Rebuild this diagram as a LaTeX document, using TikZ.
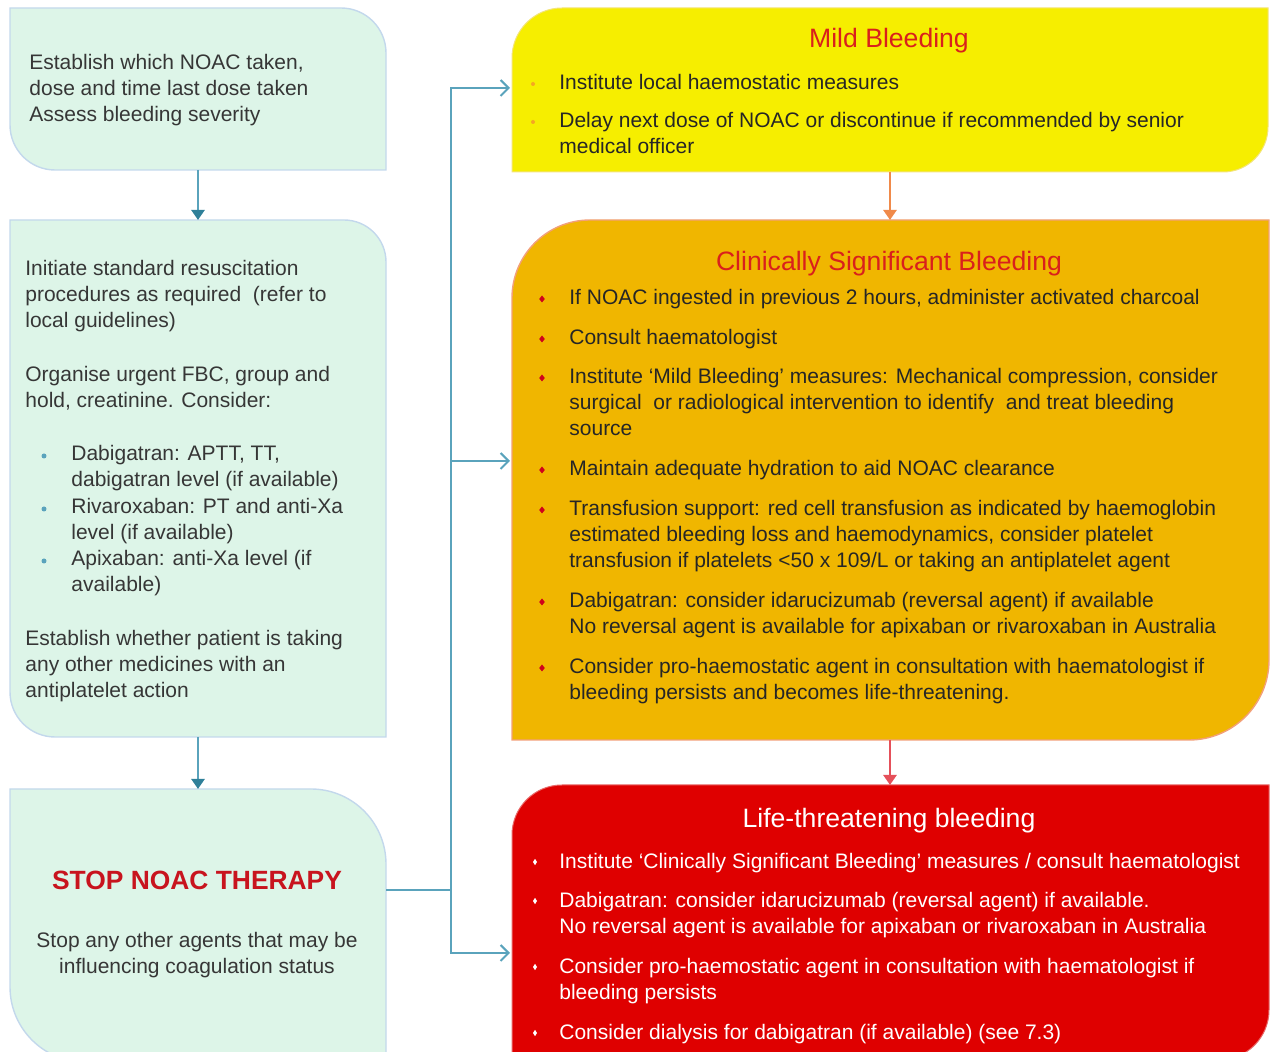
\documentclass[tikz,border=0pt]{standalone}
\usepackage{fontspec}
\setmainfont{Liberation Sans}
\usetikzlibrary{arrows.meta}
\definecolor{gfill}{HTML}{DDF5E8}
\definecolor{gline}{HTML}{C3D8EC}
\definecolor{yfill}{HTML}{F6EE00}
\definecolor{yline}{HTML}{F3E47A}
\definecolor{ofill}{HTML}{F0B600}
\definecolor{oline}{HTML}{F2A07A}
\definecolor{rfill}{HTML}{DF0000}
\definecolor{rline}{HTML}{E86A6A}
\definecolor{teal}{HTML}{5AA3BC}
\definecolor{tealdark}{HTML}{2F8099}
\definecolor{bodygray}{HTML}{363636}
\definecolor{bodydark}{HTML}{262626}
\definecolor{titlered}{HTML}{D9201C}
\definecolor{stopred}{HTML}{C8141E}
\definecolor{orarrow}{HTML}{F08A4A}
\definecolor{rdarrow}{HTML}{E5505A}
\definecolor{ydot}{HTML}{F5A623}
\definecolor{odiam}{HTML}{D0021B}
\newcommand\gshape[6]{% L T R B rTR rBL
  \filldraw[gbox] (#1,#2) -- ({#3-#5},#2) arc[start angle=90,end angle=0,radius=#5*0.5pt]
    -- (#3,#4) -- ({#1+#6},#4) arc[start angle=270,end angle=180,radius=#6*0.5pt] -- cycle;}
\newcommand\rshape[7]{% style L T R B rTL rBR
  \filldraw[#1] (#2,{#3+#6}) arc[start angle=180,end angle=90,radius=#6*0.5pt]
    -- (#4,#3) -- (#4,{#5-#7}) arc[start angle=0,end angle=-90,radius=#7*0.5pt] -- (#2,#5) -- cycle;}
\newcommand\boxnode[5]{% name L T R B
  \node[inner sep=0pt,outer sep=0pt,minimum width={(#4-#2)*0.5pt},minimum height={(#5-#3)*0.5pt}]
    (#1) at ({(#2+#4)/2},{(#3+#5)/2}) {};}
\newcommand\odiamond[2]{\fill[odiam] (#1,{#2-3.5}) -- ({#1+2.8},#2) -- (#1,{#2+3.5}) -- ({#1-2.8},#2) -- cycle;}
\newcommand\wbullet[2]{\fill[white] (#1,{#2-3.2}) -- ({#1+2},#2) -- (#1,{#2+3.2}) -- ({#1-2},#2) -- cycle;}
\tikzset{
  gbox/.style={fill=gfill,draw=gline,line width=0.7pt},
  ybox/.style={fill=yfill,draw=yline,line width=0.5pt},
  obox/.style={fill=ofill,draw=oline,line width=0.7pt},
  rbox/.style={fill=rfill,draw=rline,line width=0.5pt},
  body/.style={anchor=north west,inner sep=0pt,align=left,font=\fontsize{10.5}{13}\selectfont},
  gtext/.style={body,text=bodygray},
  dtext/.style={body,text=bodydark},
  wtext/.style={body,text=white},
  title/.style={inner sep=0pt,font=\fontsize{13.3}{16}\selectfont},
  vflow/.style={draw=teal,line width=1.4pt,-{Triangle[length=5pt,width=6.5pt,color=tealdark]}},
  stem/.style={draw=teal,line width=1pt},
  stemarrow/.style={stem,-{Straight Barb[length=4pt,width=8pt,line width=1pt]}},
}
\begin{document}
\begin{tikzpicture}[x=0.5pt,y=-0.5pt]
\useasboundingbox (0,0) rectangle (1271,1052);
\clip (0,0) rectangle (1271,1052);

% ---------- left column boxes ----------
\gshape{10}{8}{386}{170}{45}{45}
\boxnode{b1}{10}{8}{386}{170}
\gshape{10}{220}{386}{737}{42}{45}
\boxnode{b2}{10}{220}{386}{737}
\gshape{10}{789}{386}{1062}{75}{75}
\boxnode{b3}{10}{789}{386}{1062}

% ---------- right column boxes ----------
\rshape{ybox}{512}{8}{1268}{172}{50}{45}
\boxnode{yb}{512}{8}{1268}{172}
\rshape{obox}{512}{220}{1269}{740}{78}{80}
\boxnode{ob}{512}{220}{1268}{740}
\rshape{rbox}{512}{785}{1269}{1060}{50}{50}
\boxnode{rb}{512}{785}{1268}{1060}

% ---------- box 1 ----------
\node[gtext] (t1) at (29,51) {\strut Establish which NOAC taken,\\dose and time last dose taken\\Assess bleeding severity};

% ---------- box 2 ----------
\node[gtext] (t2a) at (25,257) {\strut Initiate standard resuscitation\\procedures as required\ \ (refer to\\local guidelines)};
\node[gtext] (t2b) at (25,363) {\strut Organise urgent FBC, group and\\hold, creatinine. Consider:};
\fill[teal] (44,456) circle[radius=2.5];
\node[gtext] (t2c) at (71,442) {\strut Dabigatran: APTT, TT,\\dabigatran level (if available)};
\fill[teal] (44,509) circle[radius=2.5];
\node[gtext] (t2d) at (71,495) {\strut Rivaroxaban: PT and anti-Xa\\level (if available)};
\fill[teal] (44,561) circle[radius=2.5];
\node[gtext] (t2e) at (71,547) {\strut Apixaban: anti-Xa level (if\\available)};
\node[gtext] (t2f) at (25,627) {\strut Establish whether patient is taking\\any other medicines with an\\antiplatelet action};

% ---------- box 3 ----------
\node[inner sep=0pt,text=stopred,font=\fontsize{13.2}{16}\selectfont\bfseries] (stop) at (197,880) {STOP NOAC THERAPY};
\node[body,anchor=north,align=center,text=bodygray] (t3) at (197,929) {\strut Stop any other agents that may be\\influencing coagulation status};

% ---------- yellow box ----------
\node[title,text=titlered] (ytitle) at (889,41) {Mild Bleeding};
\fill[ydot] (533,84) circle[radius=2];
\node[dtext] (y1) at (559,71) {\strut Institute local haemostatic measures};
\fill[ydot] (533,122) circle[radius=2];
\node[dtext] (y2) at (559,109) {\strut Delay next dose of NOAC or discontinue if recommended by senior\\medical officer};

% ---------- orange box ----------
\node[title,text=titlered] (otitle) at (889,264) {Clinically Significant Bleeding};
\odiamond{542}{299}
\node[dtext] (o1) at (569,286) {\strut If NOAC ingested in previous 2 hours, administer activated charcoal};
\odiamond{542}{339}
\node[dtext] (o2) at (569,326) {\strut Consult haematologist};
\odiamond{542}{378}
\node[dtext] (o3) at (569,365) {\strut Institute ‘Mild Bleeding’ measures: Mechanical compression, consider\\surgical\ \ or radiological intervention to identify\ \ and treat bleeding\\source};
\odiamond{542}{470}
\node[dtext] (o4) at (569,457) {\strut Maintain adequate hydration to aid NOAC clearance};
\odiamond{542}{510}
\node[dtext] (o5) at (569,497) {\strut Transfusion support: red cell transfusion as indicated by haemoglobin\\estimated bleeding loss and haemodynamics, consider platelet\\transfusion if platelets <50 x 109/L or taking an antiplatelet agent};
\odiamond{542}{602}
\node[dtext] (o6) at (569,589) {\strut Dabigatran: consider idarucizumab (reversal agent) if available\\No reversal agent is available for apixaban or rivaroxaban in Australia};
\odiamond{542}{668}
\node[dtext] (o7) at (569,655) {\strut Consider pro-haemostatic agent in consultation with haematologist if\\bleeding persists and becomes life-threatening.};

% ---------- red box ----------
\node[title,text=white] (rtitle) at (889,821) {Life-threatening bleeding};
\wbullet{535}{862}
\node[wtext] (r1) at (559,850) {\strut Institute ‘Clinically Significant Bleeding’ measures / consult haematologist};
\wbullet{535}{901}
\node[wtext] (r2) at (559,889) {\strut Dabigatran: consider idarucizumab (reversal agent) if available.\\No reversal agent is available for apixaban or rivaroxaban in Australia};
\wbullet{535}{967}
\node[wtext] (r3) at (559,955) {\strut Consider pro-haemostatic agent in consultation with haematologist if\\bleeding persists};
\wbullet{535}{1033}
\node[wtext] (r4) at (559,1021) {\strut Consider dialysis for dabigatran (if available) (see 7.3)};

% ---------- connectors ----------
\draw[vflow] (b1.south) -- (b2.north);
\draw[vflow] (b2.south) -- (b3.north);
\draw[line width=1.4pt,draw=orarrow,-{Triangle[length=5pt,width=6.5pt,color=orarrow]}] (yb.south) -- (ob.north);
\draw[line width=1.4pt,draw=rdarrow,-{Triangle[length=5pt,width=6.5pt,color=rdarrow]}] (ob.south) -- (rb.north);

\coordinate (b3out) at (386,890);
\coordinate (jn) at (451,890);
\coordinate (yin) at (510,88);
\coordinate (oin) at (510,461);
\coordinate (rin) at (510,953);
\draw[stem] (b3out) -- (jn);
\draw[stemarrow] (jn) |- (yin);
\draw[stemarrow] (jn) |- (oin);
\draw[stemarrow] (jn) |- (rin);
\end{tikzpicture}
\end{document}
